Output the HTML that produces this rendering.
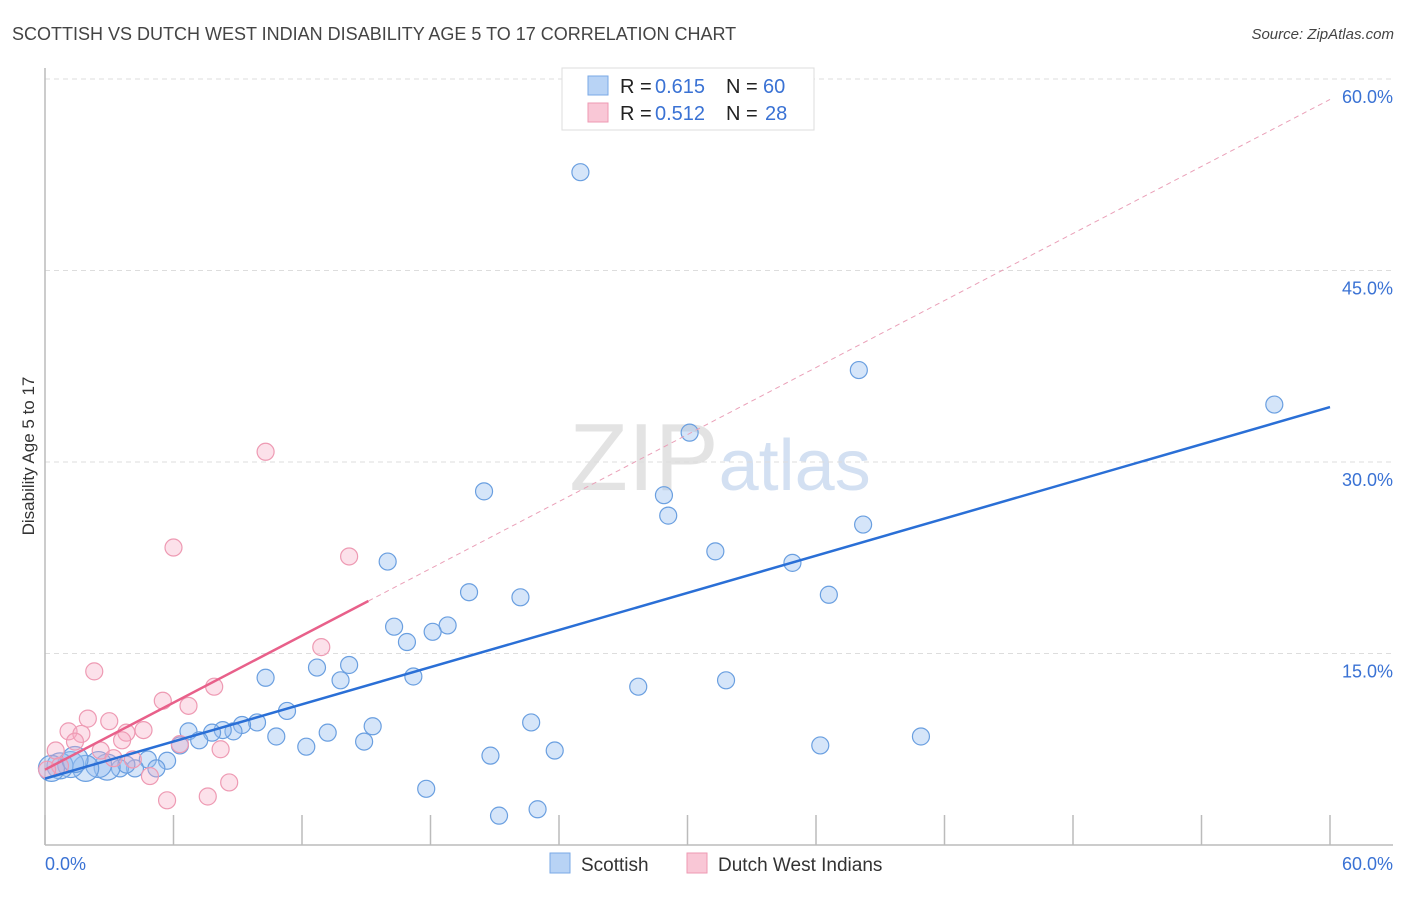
<!DOCTYPE html>
<html><head><meta charset="utf-8"><style>
body{margin:0;background:#fff;font-family:"Liberation Sans",sans-serif}
svg text{font-family:"Liberation Sans",sans-serif}
</style></head><body>
<svg id="chart" width="1406" height="892" viewBox="0 0 1406 892" xmlns="http://www.w3.org/2000/svg">
<text x="12" y="40" font-size="18" fill="#444">SCOTTISH VS DUTCH WEST INDIAN DISABILITY AGE 5 TO 17 CORRELATION CHART</text>
<text x="1394" y="39" font-size="15" fill="#444" text-anchor="end" font-style="italic">Source: ZipAtlas.com</text>
<text x="720" y="490" font-size="96" fill="#ddd" text-anchor="middle" font-family="Liberation Serif" opacity="0.8">ZIP<tspan fill="#c9d9ef" font-family="Liberation Sans" font-size="72">atlas</tspan></text>
<g id="grid"></g>
<g id="axes"></g>
<g id="marks"></g>
<text transform="translate(34,456) rotate(-90)" font-size="17" fill="#333" text-anchor="middle">Disability Age 5 to 17</text>
<g>
<rect x="562" y="68" width="252" height="62" fill="#fff" stroke="#ddd"/>
<rect x="588" y="76" width="20" height="19" fill="#b8d3f5" stroke="#7aa8e6"/>
<rect x="588" y="103" width="20" height="19" fill="#f9c7d6" stroke="#ee9ab3"/>
<text x="620" y="93" font-size="20" fill="#222">R =</text><text x="655" y="93" font-size="20" fill="#3a72d4">0.615</text>
<text x="726" y="93" font-size="20" fill="#222">N =</text><text x="763" y="93" font-size="20" fill="#3a72d4">60</text>
<text x="620" y="120" font-size="20" fill="#222">R =</text><text x="655" y="120" font-size="20" fill="#3a72d4">0.512</text>
<text x="726" y="120" font-size="20" fill="#222">N =</text><text x="765" y="120" font-size="20" fill="#3a72d4">28</text>
</g>
<g>
<rect x="550" y="853" width="20" height="20" fill="#b8d3f5" stroke="#7aa8e6"/>
<text x="581" y="871" font-size="19" fill="#333">Scottish</text>
<rect x="687" y="853" width="20" height="20" fill="#f9c7d6" stroke="#ee9ab3"/>
<text x="718" y="871" font-size="19" fill="#333">Dutch West Indians</text>
</g>
</svg>
<script>
const yTicks=[15,30,45,60];
const yTickLabels=["15.0%","30.0%","45.0%","60.0%"];
const xTicks=[0,6,12,18,24,30,36,42,48,54,60];
const blueX=[25.0,38.0,57.4,30.1,20.5,28.9,29.1,38.2,31.3,16.0,34.9,19.8,36.6,22.2,16.3,18.8,18.1,16.9,14.2,12.7,13.8,17.2,10.3,27.7,31.8,11.3,22.7,15.3,9.9,9.2,13.2,8.8,8.3,7.8,6.7,10.8,14.9,12.2,7.2,6.3,23.8,36.2,40.9,20.8,5.7,4.8,5.2,4.2,3.5,3.8,2.9,2.5,1.9,1.2,0.7,0.3,1.4,17.8,23.0,21.2];
const blueY=[52.7,37.2,34.5,32.3,27.7,27.4,25.8,25.1,23.0,22.2,22.1,19.8,19.6,19.4,17.1,17.2,16.7,15.9,14.1,13.9,12.9,13.2,13.1,12.4,12.9,10.5,9.6,9.3,9.6,9.4,8.8,8.9,9.0,8.8,8.9,8.5,8.1,7.7,8.2,7.8,7.4,7.8,8.5,7.0,6.6,6.7,6.0,6.0,6.0,6.3,6.1,6.3,6.0,6.3,6.2,6.0,6.7,4.4,2.8,2.3];
const pinkX=[10.3,6.0,14.2,12.9,2.3,7.9,5.5,6.7,2.0,3.0,1.1,1.7,4.6,3.8,3.6,6.3,8.2,2.6,1.4,0.5,4.1,3.2,0.7,4.9,8.6,7.6,5.7,0.1];
const pinkY=[30.8,23.3,22.6,15.5,13.6,12.4,11.3,10.9,9.9,9.7,8.9,8.7,9.0,8.8,8.2,7.9,7.5,7.4,8.1,7.4,6.7,6.8,6.2,5.4,4.9,3.8,3.5,5.9];
const blueTrend=[5.2,34.3];
const pinkTrend=[5.9,0.875];
const pinkSolidEnd=15.1;

const NS="http://www.w3.org/2000/svg";
const X=v=>45+v/60*1285;
const Y=v=>845-v/15*191.5;
function mk(parent,tag,attrs){const e=document.createElementNS(NS,tag);for(const k in attrs)e.setAttribute(k,attrs[k]);document.getElementById(parent).appendChild(e);return e;}

yTicks.forEach((t,i)=>{
  const l=mk('grid','line',{x1:45,x2:1393,y1:Y(t),y2:Y(t),stroke:'#ddd','stroke-dasharray':'5,4'});
  
  
  const tx=mk('grid','text',{x:1393,y:Y(t)+24,'font-size':18,fill:'#3a72d4','text-anchor':'end'});
  tx.textContent=yTickLabels[i];
  
  
});
let a=mk('axes','line',{x1:45,x2:45,y1:68,y2:845,stroke:'#bbb','stroke-width':1.5});


a=mk('axes','line',{x1:45,x2:1393,y1:845,y2:845,stroke:'#bbb','stroke-width':1.5});


xTicks.forEach(t=>{
  const l=mk('axes','line',{x1:X(t),x2:X(t),y1:815,y2:845,stroke:'#bbb','stroke-width':1.5});
  
  
});
let t0=mk('axes','text',{x:45,y:870,'font-size':18,fill:'#3a72d4'});t0.textContent='0.0%';


let t1=mk('axes','text',{x:1393,y:870,'font-size':18,fill:'#3a72d4','text-anchor':'end'});t1.textContent='60.0%';



blueX.forEach((v,i)=>{
  const r=(v<3.5&&blueY[i]<7)?13:8.5;
  const c=mk('marks','circle',{cx:X(v),cy:Y(blueY[i]),r:r,fill:'rgba(150,190,240,0.4)',stroke:'#6a9fe0','stroke-width':1.2});
  
  
});
pinkX.forEach((v,i)=>{
  const c=mk('marks','circle',{cx:X(v),cy:Y(pinkY[i]),r:8.5,fill:'rgba(245,170,195,0.35)',stroke:'#ee9ab3','stroke-width':1.2});
  
  
});
let pl=mk('marks','line',{x1:X(pinkSolidEnd),y1:Y(pinkTrend[0]+pinkTrend[1]*pinkSolidEnd),x2:X(60),y2:Y(pinkTrend[0]+pinkTrend[1]*60),stroke:'#eaa0b8','stroke-width':1,'stroke-dasharray':'5,4'});


pl=mk('marks','line',{x1:X(0),y1:Y(pinkTrend[0]),x2:X(pinkSolidEnd),y2:Y(pinkTrend[0]+pinkTrend[1]*pinkSolidEnd),stroke:'#e8608a','stroke-width':2.5});


let bl=mk('marks','line',{x1:X(0),y1:Y(blueTrend[0]),x2:X(60),y2:Y(blueTrend[1]),stroke:'#2a6fd6','stroke-width':2.5});


</script>
</body></html>
